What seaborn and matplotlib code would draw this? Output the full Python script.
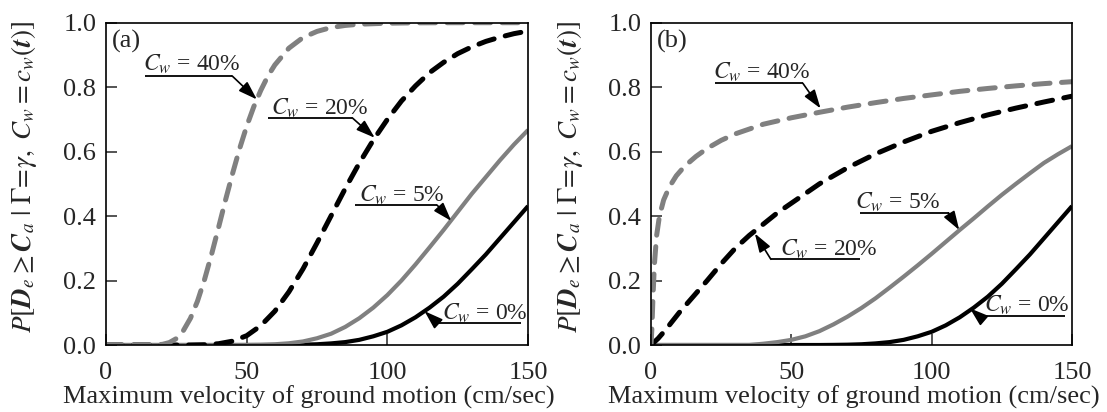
import matplotlib
matplotlib.use("Agg")
import matplotlib.pyplot as plt
import seaborn as sns

# ---------------- data ----------------
X5 = [0, 5, 10, 15, 20, 25, 30, 35, 40, 45, 50, 55, 60, 65, 70, 75, 80, 85, 90,
      95, 100, 105, 110, 115, 120, 125, 130, 135, 140, 145, 150]

# panel (a)
A_CW0 = [0, 0, 0, 0, 0, 0, 0, 0, 0, 0, 0, 0, 0, 0.0004, 0.001, 0.0023, 0.005, 0.009,
         0.016, 0.027, 0.041, 0.061, 0.086, 0.116, 0.150, 0.190, 0.235, 0.281, 0.331,
         0.381, 0.431]
A_CW5 = [0, 0, 0, 0, 0, 0, 0, 0, 0, 0.0001, 0.0003, 0.0008, 0.0023, 0.0054, 0.011,
         0.021, 0.035, 0.056, 0.083, 0.116, 0.155, 0.200, 0.250, 0.303, 0.357, 0.413,
         0.469, 0.521, 0.573, 0.622, 0.667]
A_CW20 = [0, 0, 0, 0, 0, 0, 0.0001, 0.0009, 0.004, 0.012, 0.029, 0.060, 0.105, 0.165,
          0.236, 0.317, 0.401, 0.485, 0.564, 0.636, 0.700, 0.757, 0.804, 0.845, 0.877,
          0.904, 0.925, 0.942, 0.955, 0.966, 0.974]
A_CW40_X = [0, 5, 10, 15, 20, 22.5, 25, 27.5, 30, 32.5, 35, 37.5, 40, 42.5, 45, 47.5,
            50, 52.5, 55, 57.5, 60, 65, 70, 75, 80, 85, 90, 100, 110, 120, 130, 140, 150]
A_CW40 = [0, 0, 0, 0.0002, 0.002, 0.0076, 0.020, 0.045, 0.083, 0.136, 0.203, 0.281,
          0.365, 0.451, 0.533, 0.610, 0.679, 0.739, 0.790, 0.834, 0.869, 0.921, 0.954,
          0.973, 0.985, 0.9915, 0.9953, 0.9985, 0.9996, 0.9999, 1.0, 1.0, 1.0]

# panel (b)
B_CW0 = A_CW0[:]
B_CW5 = [0, 0, 0, 0, 0, 0, 0, 0, 0.004, 0.009, 0.016, 0.027, 0.043, 0.064, 0.088,
         0.115, 0.145, 0.178, 0.212, 0.247, 0.283, 0.320, 0.357, 0.393, 0.430, 0.466,
         0.500, 0.533, 0.565, 0.592, 0.617]
B_CW20_X = [0, 2.5, 5, 10, 15, 20, 25, 30, 35, 40, 45, 50, 55, 60, 65, 70, 80, 90,
            100, 110, 120, 130, 140, 150]
B_CW20 = [0, 0.02, 0.045, 0.10, 0.15, 0.20, 0.252, 0.30, 0.34, 0.375, 0.41, 0.44,
          0.47, 0.50, 0.525, 0.55, 0.593, 0.63, 0.663, 0.69, 0.714, 0.735, 0.754, 0.772]
B_CW40_X = [0, 0.3, 0.7, 1.2, 2, 3, 4.5, 6.5, 9, 12, 16, 20, 25, 30, 35, 40, 50, 60,
            70, 80, 90, 100, 110, 120, 130, 140, 150]
B_CW40 = [0, 0.05, 0.15, 0.25, 0.34, 0.40, 0.45, 0.49, 0.525, 0.555, 0.585, 0.61,
          0.635, 0.655, 0.67, 0.685, 0.705, 0.722, 0.738, 0.752, 0.765, 0.776, 0.787,
          0.796, 0.804, 0.811, 0.817]

X_TICKS = [0, 50, 100, 150]
Y_TICKS = [0.0, 0.2, 0.4, 0.6, 0.8, 1.0]
Y_LABEL = r'$P[\mathbfit{D}_e \geq \mathbfit{C}_a\ |\ \Gamma\!=\!\gamma,\ C_w = c_w(\mathbfit{t})]$'
X_LABEL = 'Maximum velocity of ground motion (cm/sec)'
LAB = [r'$C_w$ = 0%', r'$C_w$ = 5%', r'$C_w$ = 20%', r'$C_w$ = 40%']

# ---------------- style ----------------
sns.set_style("ticks")
plt.rcParams['font.family'] = ['Liberation Serif', 'DejaVu Serif']
plt.rcParams['mathtext.fontset'] = 'stix'

GRAY = '#808080'
DASH = (0, (3.2, 2.3))

fig = plt.figure(figsize=(11.07, 4.12), dpi=100)
ax1 = fig.add_axes([0.0958, 0.1626, 0.3812, 0.7823])
ax2 = fig.add_axes([0.5881, 0.1626, 0.3803, 0.7823])


def curve(ax, x, y, color, dashed, lw):
    kw = dict(color=color, linewidth=lw, errorbar=None, ax=ax, legend=False)
    if dashed:
        sns.lineplot(x=x, y=y, linestyle=DASH, dash_capstyle='round', **kw)
    else:
        sns.lineplot(x=x, y=y, solid_capstyle='butt', **kw)


def label(ax, text, tx, ty, ux0, ux1, uy, tip, from_left=False):
    ax.text(tx, ty, text, fontsize=17, ha='left', va='center')
    ax.plot([ux0, ux1], [uy, uy], color='black', lw=1.3, solid_capstyle='butt')
    start = (ux0, uy) if from_left else (ux1, uy)
    ax.annotate('', xy=tip, xytext=start,
                arrowprops=dict(arrowstyle='-|>,head_length=0.6,head_width=0.2',
                                color='black', lw=1.2,
                                mutation_scale=19, shrinkA=0, shrinkB=0))


for ax in (ax1, ax2):
    ax.set_xlim(0, 150)
    ax.set_ylim(0, 1)
    ax.set_xticks(X_TICKS)
    ax.set_yticks(Y_TICKS)
    ax.set_yticklabels([f'{v:.1f}' for v in Y_TICKS])
    ax.tick_params(direction='in', length=8, width=1.1, labelsize=19,
                   top=False, right=False)
    ax.tick_params(axis='x', pad=12)
    ax.tick_params(axis='y', pad=7)
    for s in ax.spines.values():
        s.set_visible(True)
        s.set_linewidth(1.2)
        s.set_color('black')
    ax.set_xlabel(X_LABEL, fontsize=19)
    ax.set_ylabel(Y_LABEL, fontsize=19.5)
    ax.xaxis.set_label_coords(0.481, -0.125)
    ax.yaxis.set_label_coords(-0.158, 0.52)

# panel (a)
curve(ax1, X5, A_CW0, 'black', False, 3.0)
curve(ax1, X5, A_CW5, GRAY, False, 3.0)
curve(ax1, X5, A_CW20, 'black', True, 3.6)
curve(ax1, A_CW40_X, A_CW40, GRAY, True, 3.6)
ax1.text(2.0, 0.941, '(a)', fontsize=19, ha='left', va='center')
label(ax1, LAB[3], 13.0, 0.872, 14.0, 44.8, 0.835, (53.6, 0.762))
label(ax1, LAB[2], 58.5, 0.733, 57.5, 87.5, 0.705, (95.5, 0.643))
label(ax1, LAB[1], 90.0, 0.465, 88.5, 117.7, 0.434, (122.7, 0.385))
label(ax1, LAB[0], 119.5, 0.098, 117.7, 147.5, 0.069, (113.2, 0.105), from_left=True)

# panel (b)
curve(ax2, X5, B_CW0, 'black', False, 3.0)
curve(ax2, X5, B_CW5, GRAY, False, 3.0)
curve(ax2, B_CW20_X, B_CW20, 'black', True, 3.6)
curve(ax2, B_CW40_X, B_CW40, GRAY, True, 3.6)
ax2.text(2.0, 0.941, '(b)', fontsize=19, ha='left', va='center')
label(ax2, LAB[3], 22.0, 0.845, 22.8, 54.1, 0.812, (60.4, 0.734))
label(ax2, LAB[2], 45.9, 0.298, 42.7, 74.4, 0.266, (37.0, 0.346), from_left=True)
label(ax2, LAB[1], 72.7, 0.443, 74.4, 106.0, 0.410, (109.8, 0.357))
label(ax2, LAB[0], 118.7, 0.122, 116.8, 147.5, 0.090, (113.6, 0.114), from_left=True)

fig.savefig('out.png', dpi=100)
